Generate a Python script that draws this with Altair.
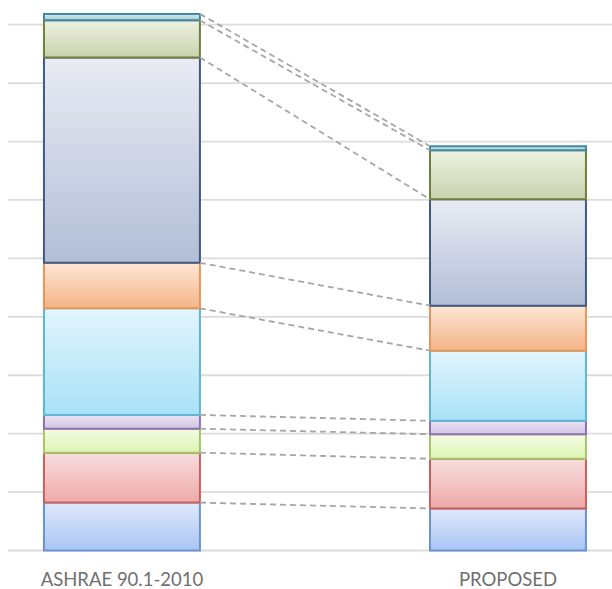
import altair as alt
import pandas as pd

categories = ["ASHRAE 90.1-2010", "PROPOSED"]
segments = ["Segment 1", "Segment 2", "Segment 3", "Segment 4", "Segment 5",
            "Segment 6", "Segment 7", "Segment 8", "Segment 9"]
baseline_values = [8.2, 8.55, 4.1, 2.35, 18.25, 7.8, 35.15, 6.35, 1.1]
proposed_values = [7.2, 8.5, 4.2, 2.3, 12.0, 7.7, 18.2, 8.4, 0.7]
grid_ticks = [0, 10, 20, 30, 40, 50, 60, 70, 80, 90]

top_colors = ["#dfe8fa", "#f9dede", "#f5fbe6", "#ebe4f3", "#e2f5fd",
              "#fde7d6", "#e9ecf4", "#eef1e2", "#d4e8ee"]
bottom_colors = ["#a9c5f5", "#eea9a9", "#dcf5b0", "#cfc3e4", "#a8e1f7",
                 "#f4b487", "#b2bdd5", "#c8d2ae", "#a9cdd8"]
stroke_colors = ["#6a93d0", "#c9605c", "#a7c46a", "#8c72b0", "#5fb6d0",
                 "#e8955a", "#3f5a85", "#6f7f3c", "#3f8aa0"]

rows = []
for cat, vals in zip(categories, [baseline_values, proposed_values]):
    cum = 0.0
    for seg, v in zip(segments, vals):
        rows.append({"cat": cat, "seg": seg, "y0": cum, "y1": cum + v})
        cum += v
df = pd.DataFrame(rows)

conn = []
cb, cp = 0.0, 0.0
for seg, vb, vp in zip(segments, baseline_values, proposed_values):
    cb += vb
    cp += vp
    conn.append({"src": categories[0], "dst": categories[1], "ya": cb, "yb": cp})
conn_df = pd.DataFrame(conn)

xscale = alt.Scale(domain=categories, paddingInner=0.596, paddingOuter=0.0803, align=0.58)
yscale = alt.Scale(domain=[0, 92], nice=False)

x_axis = alt.Axis(title=None, ticks=False, domain=False, grid=False,
                  labelAngle=0, labelFont="Lato", labelFontSize=18.5,
                  labelColor="#707070", labelPadding=19.5)

base = alt.Chart(df)

grid_layer = alt.Chart(pd.DataFrame({"v": grid_ticks})).mark_rule(
    color="#dcdcdc", strokeWidth=1.8
).encode(y=alt.Y("v:Q", scale=yscale, axis=None))

layers = [grid_layer]
for i, seg in enumerate(segments):
    grad = alt.LinearGradient(
        gradient="linear",
        stops=[alt.GradientStop(color=top_colors[i], offset=0),
               alt.GradientStop(color=bottom_colors[i], offset=1)],
        x1=0, x2=0, y1=0, y2=1,
    )
    layer = base.transform_filter(alt.datum.seg == seg).mark_bar(
        color=grad, stroke=stroke_colors[i], strokeWidth=2
    ).encode(
        x=alt.X("cat:N", scale=xscale, sort=categories, axis=x_axis),
        y=alt.Y("y0:Q", scale=yscale, axis=None),
        y2="y1:Q",
    )
    layers.append(layer)

conn_layer = alt.Chart(conn_df).mark_rule(
    color="#a6a6a6", strokeWidth=1.8, strokeDash=[6, 4]
).encode(
    x=alt.X("src:N", scale=xscale, bandPosition=1, axis=x_axis),
    x2=alt.X2("dst:N", bandPosition=0),
    y=alt.Y("ya:Q", scale=yscale, axis=None),
    y2="yb:Q",
)
layers.append(conn_layer)

chart = alt.layer(*layers).properties(
    width=604, height=537.5,
    background="white",
    autosize=alt.AutoSizeParams(type="none"),
    padding={"left": 8, "top": 13, "right": 0, "bottom": 38.5},
).configure_view(strokeWidth=0).configure_axis(
    domain=False, ticks=False, grid=False
)

chart.save("out.html", embed_options={"renderer": "svg", "actions": False})
